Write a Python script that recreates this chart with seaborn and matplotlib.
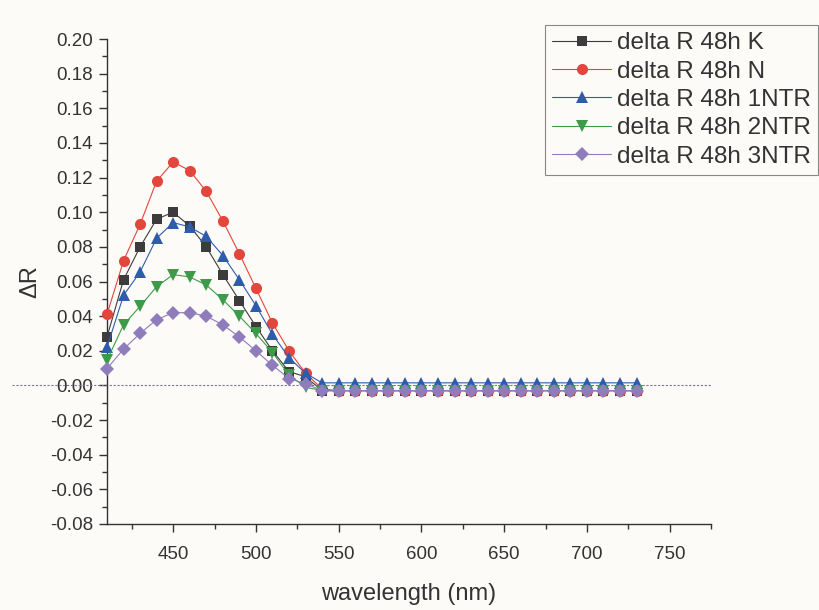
import matplotlib
matplotlib.use("Agg")
import matplotlib.pyplot as plt
import seaborn as sns
import pandas as pd
from matplotlib.ticker import MultipleLocator

wavelength = [410, 420, 430, 440, 450, 460, 470, 480, 490, 500, 510, 520, 530, 540,
              550, 560, 570, 580, 590, 600, 610, 620, 630, 640, 650, 660, 670, 680,
              690, 700, 710, 720, 730]

dR_K = [0.028, 0.061, 0.080, 0.096, 0.100, 0.092, 0.080, 0.064, 0.049, 0.034, 0.020, 0.008, 0.005, -0.003,
        -0.003, -0.003, -0.003, -0.003, -0.003, -0.003, -0.003, -0.003, -0.003, -0.003, -0.003, -0.003,
        -0.003, -0.003, -0.003, -0.003, -0.003, -0.003, -0.003]
dR_N = [0.041, 0.072, 0.093, 0.118, 0.129, 0.124, 0.112, 0.095, 0.076, 0.056, 0.036, 0.020, 0.007, -0.002,
        -0.003, -0.003, -0.003, -0.003, -0.003, -0.003, -0.003, -0.003, -0.003, -0.003, -0.003, -0.003,
        -0.003, -0.003, -0.003, -0.003, -0.003, -0.003, -0.003]
dR_1NTR = [0.022, 0.052, 0.0655, 0.085, 0.094, 0.0915, 0.086, 0.075, 0.061, 0.046, 0.0295, 0.016, 0.007, 0.0015,
           0.0015, 0.0015, 0.0015, 0.0015, 0.0015, 0.0015, 0.0015, 0.0015, 0.0015, 0.0015, 0.0015, 0.0015,
           0.0015, 0.0015, 0.0015, 0.0015, 0.0015, 0.0015, 0.0015]
dR_2NTR = [0.0145, 0.035, 0.0457, 0.057, 0.064, 0.0626, 0.058, 0.0495, 0.040, 0.030, 0.019, 0.006, -0.001, -0.003,
           -0.003, -0.003, -0.003, -0.003, -0.003, -0.003, -0.003, -0.003, -0.003, -0.003, -0.003, -0.003,
           -0.003, -0.003, -0.003, -0.003, -0.003, -0.003, -0.003]
dR_3NTR = [0.0097, 0.021, 0.030, 0.038, 0.042, 0.042, 0.040, 0.035, 0.028, 0.020, 0.0116, 0.004, 0.001, -0.003,
           -0.003, -0.003, -0.003, -0.003, -0.003, -0.003, -0.003, -0.003, -0.003, -0.003, -0.003, -0.003,
           -0.003, -0.003, -0.003, -0.003, -0.003, -0.003, -0.003]

series_labels = ["delta R 48h K", "delta R 48h N", "delta R 48h 1NTR",
                 "delta R 48h 2NTR", "delta R 48h 3NTR"]
series_values = [dR_K, dR_N, dR_1NTR, dR_2NTR, dR_3NTR]
colors = ["#3c3c3c", "#e2463d", "#2f5caa", "#3d9a48", "#8e7cbb"]
markers = ["s", "o", "^", "v", "D"]
msizes = [7, 8, 8, 8, 7]

sns.set_style("ticks")
plt.rcParams['font.family'] = ['Liberation Sans', 'DejaVu Sans']
text_col = "#333333"

fig = plt.figure(figsize=(8.2, 6.1), dpi=100)
fig.patch.set_facecolor("#fdfbf8")
ax = fig.add_axes([107/820, 1-524/610, (711-107)/820, (524-39)/610])
ax.set_facecolor("#fdfbf8")

for lab, vals, c, m, ms in zip(series_labels, series_values, colors, markers, msizes):
    df = pd.DataFrame({"wavelength": wavelength, "dR": vals})
    sns.lineplot(data=df, x="wavelength", y="dR", ax=ax, color=c, marker=m,
                 markersize=ms, markeredgewidth=0, linewidth=0.8, label=lab,
                 clip_on=False, zorder=3)

ax.axhline(0, xmin=-0.157, xmax=1.0, color="#7a7a8a", linestyle=(0, (2, 1.5)),
           linewidth=0.8, clip_on=False, zorder=2)

ax.set_xlim(410, 775)
ax.set_ylim(-0.08, 0.20)
ax.xaxis.set_minor_locator(MultipleLocator(25))
ax.yaxis.set_minor_locator(MultipleLocator(0.01))
ax.set_xticks([450, 500, 550, 600, 650, 700, 750])
ax.set_yticks([-0.08, -0.06, -0.04, -0.02, 0.00, 0.02, 0.04, 0.06, 0.08, 0.10, 0.12, 0.14, 0.16, 0.18, 0.20])
ax.set_yticklabels(["-0.08", "-0.06", "-0.04", "-0.02", "0.00", "0.02", "0.04", "0.06",
                    "0.08", "0.10", "0.12", "0.14", "0.16", "0.18", "0.20"])

for s in ["top", "right"]:
    ax.spines[s].set_visible(False)
for s in ["left", "bottom"]:
    ax.spines[s].set_color(text_col)
    ax.spines[s].set_linewidth(1.0)

ax.tick_params(which="major", direction="out", length=6, width=1.0, color=text_col,
               labelsize=13.5, labelcolor=text_col, pad=4)
ax.tick_params(which="minor", direction="out", length=3.5, width=1.0, color=text_col)
ax.tick_params(axis="x", which="major", pad=10)

ax.set_xlabel("wavelength (nm)", fontsize=17, color=text_col, labelpad=14)
ax.set_ylabel("ΔR", fontsize=17, color=text_col, labelpad=6)

handles, labels = ax.get_legend_handles_labels()
ax.get_legend().remove()
leg = fig.legend(handles, labels, loc="upper right", bbox_to_anchor=(818/820, 1-25/610),
                 fontsize=17.5, frameon=True, fancybox=False, framealpha=1,
                 edgecolor="#888888", handlelength=2.4, handletextpad=0.25,
                 labelspacing=0.26, borderpad=0.3, borderaxespad=0)
leg.get_frame().set_linewidth(0.8)
leg.get_frame().set_facecolor("#fdfbf8")
for t in leg.get_texts():
    t.set_color(text_col)

fig.savefig("out.png", dpi=100, facecolor=fig.get_facecolor())
